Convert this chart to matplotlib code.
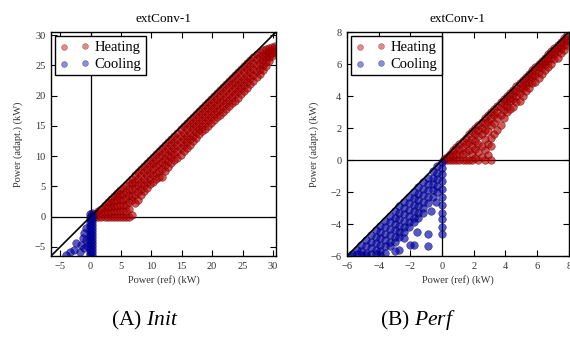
import matplotlib
matplotlib.use("Agg")
import matplotlib.pyplot as plt

plt.rcParams['font.family'] = ['Liberation Serif', 'DejaVu Serif']
plt.rcParams['mathtext.fontset'] = 'custom'
plt.rcParams['mathtext.it'] = 'Liberation Serif:italic'
plt.rcParams['mathtext.rm'] = 'Liberation Serif'

title = "extConv-1"
xlabel = "Power (ref) (kW)"
ylabel = "Power (adapt.) (kW)"
captions = ["(A) $\\mathit{Init}$", "(B) $\\mathit{Perf}$"]

init_ticks = [-5, 0, 5, 10, 15, 20, 25, 30]
init_lim = (-6.5, 30.5)
perf_ticks = [-6, -4, -2, 0, 2, 4, 6, 8]
perf_lim = (-6, 8)

# --- Init, heating: columns (x, [y values]) ---
init_heat_cols = [
    (0.3, [0.1]), (0.8, [0.0, 0.4]), (1.3, [0.0, 0.5, 1.0]), (1.8, [0.0, 0.6, 1.3]),
    (2.3, [0.0, 0.7, 1.4, 1.9]), (2.8, [0.0, 0.8, 1.6, 2.4]),
    (3.3, [0.0, 0.8, 1.6, 2.3, 2.9]), (3.8, [0.0, 0.9, 1.8, 2.6, 3.4]),
    (4.3, [0.0, 0.9, 1.8, 2.7, 3.4, 3.9]), (4.8, [0.0, 1.0, 2.0, 2.9, 3.7, 4.4]),
    (5.3, [0.0, 0.9, 1.9, 2.8, 3.8, 4.8]), (5.8, [0.0, 1.0, 2.0, 3.0, 4.0, 5.3]),
    (6.3, [0.0, 1.2, 2.4, 3.6, 4.6, 5.8]), (6.8, [0.2, 2.7, 3.4, 4.6, 5.5, 6.3]),
    (7.3, [2.2, 3.6, 4.8, 5.8, 6.8]), (7.8, [2.8, 4.0, 5.2, 6.3, 7.3]),
    (8.3, [3.5, 4.6, 5.6, 6.7, 7.8]), (8.8, [4.2, 5.2, 6.2, 7.3, 8.3]),
    (9.3, [4.8, 5.8, 6.8, 7.8, 8.8]), (9.8, [5.4, 6.2, 7.2, 8.3, 9.3]),
    (10.3, [5.8, 6.8, 7.8, 8.8, 9.8]), (10.8, [6.2, 7.2, 8.3, 9.3, 10.3]),
    (11.3, [6.5, 7.6, 8.7, 9.8, 10.8]), (11.8, [6.6, 7.8, 9.0, 10.2, 11.3]),
    (12.3, [7.5, 8.5, 9.5, 10.6, 11.8]), (12.8, [8.2, 9.2, 10.2, 11.2, 12.3]),
    (13.3, [8.8, 9.8, 10.8, 11.8, 12.8]), (13.8, [9.4, 10.4, 11.4, 12.4, 13.3]),
    (14.3, [9.7, 10.8, 11.8, 12.9, 13.9]), (14.8, [10.2, 11.3, 12.3, 13.4, 14.4]),
    (15.3, [10.8, 11.8, 12.8, 13.9, 14.9]), (15.8, [11.4, 12.4, 13.4, 14.4, 15.4]),
    (16.3, [11.9, 12.9, 13.9, 14.9, 15.9]), (16.8, [12.5, 13.4, 14.4, 15.4, 16.4]),
    (17.3, [13.0, 14.0, 14.9, 15.9, 16.9]), (17.8, [13.6, 14.5, 15.4, 16.4, 17.4]),
    (18.3, [14.1, 15.0, 16.0, 16.9, 17.9]), (18.8, [14.5, 15.5, 16.4, 17.4, 18.4]),
    (19.3, [15.0, 16.0, 16.9, 17.9, 18.9]), (19.8, [15.5, 16.4, 17.4, 18.4, 19.4]),
    (20.3, [15.9, 16.9, 17.9, 18.9, 19.9]), (20.8, [16.4, 17.4, 18.4, 19.4, 20.4]),
    (21.3, [16.8, 17.8, 18.9, 19.9, 20.9]), (21.8, [17.3, 18.3, 19.3, 20.4, 21.4]),
    (22.3, [17.8, 18.8, 19.8, 20.9, 21.9]), (22.8, [18.2, 19.3, 20.3, 21.4, 22.4]),
    (23.3, [18.7, 19.8, 20.8, 21.9, 22.9]), (23.8, [19.1, 20.2, 21.3, 22.3, 23.4]),
    (24.3, [19.6, 20.7, 21.8, 22.8, 23.9]), (24.8, [20.2, 21.2, 22.3, 23.3, 24.4]),
    (25.3, [20.8, 21.8, 22.8, 23.9, 24.9]), (25.8, [21.3, 22.3, 23.3, 24.4, 25.4]),
    (26.3, [21.9, 22.9, 23.9, 24.9, 25.9]), (26.8, [22.4, 23.4, 24.4, 25.4, 26.4]),
    (27.3, [23.0, 24.0, 25.0, 26.0, 26.9]), (27.8, [23.5, 24.4, 25.3, 26.3, 27.2]),
    (28.3, [24.2, 25.0, 25.9, 26.7, 27.5]), (28.8, [24.9, 25.6, 26.3, 27.0, 27.7]),
    (29.3, [25.7, 26.3, 26.8, 27.4, 27.9]), (29.8, [26.5, 27.0, 27.6, 28.1]),
    (30.3, [27.2, 27.7, 28.2]),
]

# --- Init, cooling ---
init_cool_cols = [
    (-0.15, [0.5, 0.0, -0.5, -1.0, -1.5, -2.0, -2.5, -3.0, -3.5, -4.0, -4.5, -5.0, -5.5, -6.0, -6.4]),
    (0.2, [0.6, 0.1, -0.4, -0.9, -1.4, -1.9, -2.4, -2.9, -3.4, -3.9, -4.4, -4.9, -5.4, -5.9, -6.4]),
    (-0.7, [-1.8, -3.85]), (-1.0, [-2.7, -5.2]), (-1.5, [-4.7]), (-1.7, [-5.8]),
    (-2.35, [-4.4]), (-2.8, [-5.5]), (-3.45, [-5.8]), (-4.0, [-6.3]),
    (-1.2, [-3.5]), (-0.5, [-4.8]),
]

# --- Perf, heating ---
perf_heat_cols = [
    (0.1, [0.0, 0.05]), (0.3, [0.0, 0.2]), (0.5, [0.0, 0.2, 0.4]), (0.7, [0.0, 0.3, 0.6]),
    (0.9, [0.0, 0.4, 0.8]), (1.1, [0.0, 0.35, 0.7, 1.0]), (1.3, [0.0, 0.4, 0.8, 1.2]),
    (1.5, [0.0, 0.5, 1.0, 1.4]), (1.7, [0.0, 0.6, 1.1, 1.6]), (1.9, [0.0, 0.4, 0.9, 1.3, 1.8]),
    (2.1, [0.1, 0.7, 1.2, 1.6, 2.0]), (2.3, [0.0, 0.5, 1.0, 1.5, 1.9, 2.2]),
    (2.5, [0.2, 0.9, 1.6, 2.0, 2.4]), (2.7, [0.0, 0.6, 1.3, 1.9, 2.3, 2.6]),
    (2.9, [0.3, 1.0, 1.8, 2.4, 2.8]), (3.1, [0.0, 0.9, 1.4, 2.2, 2.6, 3.0]),
    (3.3, [1.6, 2.3, 2.8, 3.2]), (3.5, [1.9, 2.6, 3.0, 3.4]), (3.7, [2.2, 2.8, 3.3, 3.6]),
    (3.9, [2.6, 3.1, 3.5, 3.8]), (4.1, [3.0, 3.4, 3.7, 4.0]), (4.3, [3.2, 3.7, 3.9, 4.2]),
    (4.5, [3.3, 3.8, 4.1, 4.4]), (4.7, [3.6, 4.0, 4.3, 4.6]), (4.9, [3.7, 4.2, 4.5, 4.8]),
    (5.1, [4.0, 4.5, 4.7, 5.0]), (5.3, [4.3, 4.7, 4.9, 5.2]), (5.5, [4.5, 4.9, 5.1, 5.4]),
    (5.7, [4.8, 5.2, 5.4, 5.6]), (5.9, [4.9, 5.3, 5.6, 5.8]), (6.1, [5.1, 5.5, 5.8, 6.0]),
    (6.3, [5.4, 5.8, 6.0, 6.2]), (6.5, [5.6, 6.0, 6.2, 6.4]), (6.7, [5.8, 6.2, 6.4, 6.6]),
    (6.9, [6.0, 6.4, 6.6, 6.8]), (7.1, [6.3, 6.6, 6.8, 7.0]), (7.3, [6.4, 6.8, 7.0, 7.2]),
    (7.5, [6.7, 7.0, 7.2, 7.4]), (7.7, [6.9, 7.2, 7.4, 7.6]), (7.9, [7.2, 7.5, 7.6, 7.8]),
]

# --- Perf, cooling ---
perf_cool_cols = [
    (0.0, [-0.1, -0.5, -0.9, -1.3, -1.8, -2.3, -2.8, -3.3, -3.7, -4.2, -4.6]),
    (-0.3, [-0.4, -0.8, -1.2, -1.6, -2.0]),
    (-0.6, [-0.7, -1.1, -1.5, -1.9, -2.3]),
    (-0.9, [-1.1, -1.5, -1.9, -2.3, -2.7, -4.6, -5.4]),
    (-1.2, [-1.4, -1.8, -2.2, -2.6, -3.0, -3.3]),
    (-1.5, [-1.7, -2.1, -2.5, -2.9, -3.3, -3.6]),
    (-1.8, [-2.0, -2.4, -2.8, -3.2, -3.6, -3.9, -5.3]),
    (-2.1, [-2.3, -2.7, -3.1, -3.5, -3.9, -4.2]),
    (-2.4, [-2.6, -3.0, -3.4, -3.8, -4.2, -4.5, -4.9]),
    (-2.7, [-2.9, -3.3, -3.7, -4.1, -4.5, -4.8, -5.6]),
    (-3.0, [-3.2, -3.6, -4.0, -4.4, -4.8, -5.1, -5.7]),
    (-3.3, [-3.5, -3.9, -4.3, -4.7, -5.1, -5.4]),
    (-3.6, [-3.8, -4.2, -4.6, -5.0, -5.4, -5.8]),
    (-3.9, [-4.1, -4.5, -4.9, -5.3, -5.7, -5.95]),
    (-4.2, [-4.4, -4.8, -5.2, -5.6, -5.9]),
    (-4.5, [-4.7, -5.1, -5.5, -5.85]),
    (-4.8, [-5.0, -5.4, -5.8, -5.95]),
    (-5.1, [-5.3, -5.7, -5.95]),
    (-5.4, [-5.6, -5.9]),
    (-5.7, [-5.85, -5.98]),
    (-1.6, [-4.5]), (-2.0, [-5.3]), (-0.7, [-3.2]), (-0.4, [-2.6]),
]

heat_color = '#b80000'
cool_color = '#0000a8'


def flatten(cols):
    xs, ys = [], []
    for x, yl in cols:
        for y in yl:
            xs.append(x)
            ys.append(y)
    return xs, ys


fig = plt.figure(figsize=(5.70, 3.38), dpi=100)
axes_pos = [[0.0895, 0.2426, 0.3947, 0.6627], [0.6088, 0.2426, 0.3890, 0.6627]]
panels = [
    (init_heat_cols, init_cool_cols, init_lim, init_ticks),
    (perf_heat_cols, perf_cool_cols, perf_lim, perf_ticks),
]

for i, (hc, cc, lim, ticks) in enumerate(panels):
    ax = fig.add_axes(axes_pos[i])
    hx, hy = flatten(hc)
    cx, cy = flatten(cc)
    ax.axhline(0, color='black', lw=0.9, zorder=1)
    ax.axvline(0, color='black', lw=0.9, zorder=1)
    ax.scatter(hx, hy, s=30, c=heat_color, alpha=0.65, edgecolors='#600000',
               linewidths=0.4, label='Heating', zorder=2)
    ax.scatter(cx, cy, s=30, c=cool_color, alpha=0.65, edgecolors='#000050',
               linewidths=0.4, label='Cooling', zorder=2)
    ax.plot(lim, lim, color='black', lw=1.2, zorder=3)
    ax.set_xlim(lim)
    ax.set_ylim(lim)
    ax.set_xticks(ticks)
    ax.set_yticks(ticks)
    ax.set_xticklabels([str(t).replace('-', '\u2212') for t in ticks])
    ax.set_yticklabels([str(t).replace('-', '\u2212') for t in ticks])
    ax.tick_params(direction='in', top=True, right=True, length=4, width=0.8,
                   labelsize=7.5, colors='black', labelcolor='#333333', pad=4)
    for sp in ax.spines.values():
        sp.set_linewidth(1.0)
    ax.set_title(title, fontsize=9.5, pad=7)
    ax.set_xlabel(xlabel, fontsize=7.5, labelpad=3, color='#333333')
    ax.set_ylabel(ylabel, fontsize=7.5, labelpad=8, color='#333333')
    leg = ax.legend(loc='upper left', scatterpoints=2, fontsize=10.5,
                    fancybox=False, framealpha=1, edgecolor='black',
                    borderpad=0.3, labelspacing=0.25, handletextpad=0.4,
                    borderaxespad=0.3, handlelength=2.0)
    leg.get_frame().set_linewidth(1.0)
    for h in leg.legend_handles:
        h.set_sizes([18])
        h.set_alpha(0.45)

fig.text(0.2542, 0.053, captions[0], fontsize=15.5, ha='center', va='center')
fig.text(0.733, 0.053, captions[1], fontsize=15.5, ha='center', va='center')

fig.savefig('out.png', dpi=100)
